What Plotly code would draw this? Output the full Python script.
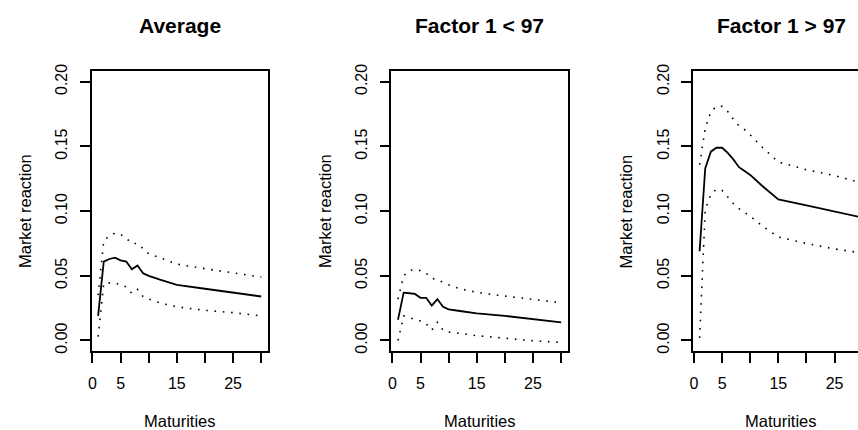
import plotly.graph_objects as go

# ---------------- data ----------------
maturities = [1, 2, 3, 4, 5, 6, 7, 8, 9, 10, 12, 15, 20, 25, 30]

avg_mean  = [0.019, 0.061, 0.063, 0.064, 0.062, 0.061, 0.055, 0.058, 0.052, 0.050, 0.047, 0.043, 0.040, 0.037, 0.034]
avg_upper = [0.035, 0.077, 0.081, 0.083, 0.082, 0.079, 0.075, 0.075, 0.071, 0.067, 0.064, 0.059, 0.0555, 0.052, 0.049]
avg_lower = [0.003, 0.044, 0.0445, 0.0445, 0.043, 0.0415, 0.0365, 0.0395, 0.034, 0.032, 0.029, 0.026, 0.0233, 0.0215, 0.019]

low_mean  = [0.016, 0.037, 0.0365, 0.036, 0.033, 0.033, 0.027, 0.032, 0.026, 0.024, 0.0228, 0.021, 0.019, 0.0165, 0.014]
low_upper = [0.032, 0.050, 0.054, 0.055, 0.054, 0.052, 0.048, 0.047, 0.045, 0.043, 0.040, 0.0372, 0.0343, 0.0318, 0.0292]
low_lower = [0.000, 0.019, 0.018, 0.016, 0.015, 0.013, 0.008, 0.014, 0.008, 0.0065, 0.0055, 0.0037, 0.0017, -0.0002, -0.0015]

high_mean  = [0.069, 0.133, 0.146, 0.149, 0.149, 0.145, 0.140, 0.134, 0.131, 0.128, 0.120, 0.109, 0.1045, 0.100, 0.095]
high_upper = [0.136, 0.164, 0.177, 0.181, 0.181, 0.177, 0.171, 0.166, 0.163, 0.159, 0.150, 0.138, 0.132, 0.1275, 0.1215]
high_lower = [0.002, 0.101, 0.113, 0.117, 0.116, 0.111, 0.106, 0.102, 0.099, 0.096, 0.089, 0.080, 0.075, 0.0708, 0.0675]

titles = ["Average", "Factor 1 < 97", "Factor 1 > 97"]
x_label = "Maturities"
y_label = "Market reaction"
x_ticks = [0, 5, 10, 15, 20, 25, 30]
x_ticktext = ["0", "5", "", "15", "", "25", ""]
y_ticks = [0.0, 0.05, 0.10, 0.15, 0.20]
y_ticktext = ["0.00", "0.05", "0.10", "0.15", "0.20"]

panels = [
    (avg_mean, avg_upper, avg_lower),
    (low_mean, low_upper, low_lower),
    (high_mean, high_upper, high_lower),
]

# ---------------- layout geometry ----------------
W, H = 858, 430
box_left = [88.0, 389.3, 692.3]
box_w = 177.0
box_top, box_bot = 66.0, 352.0
xr_full = [-0.16, 31.16]
ppu = box_w / (xr_full[1] - xr_full[0])

FONT = "Liberation Sans, Arial, Helvetica, sans-serif"

fig = go.Figure()
layout = dict(
    width=W, height=H,
    margin=dict(l=0, r=0, t=0, b=0),
    paper_bgcolor="white", plot_bgcolor="white",
    showlegend=False,
    font=dict(family=FONT, size=16, color="black"),
)

annotations = []
for i, (m, up, lo) in enumerate(panels):
    k = "" if i == 0 else str(i + 1)
    xa, ya = "x" + k, "y" + k
    left = box_left[i]
    right = min(left + box_w, W)
    xr = [xr_full[0], xr_full[0] + (right - left) / ppu]

    for series, dash, lw in ((up, "1.6px,6.7px", 1.6), (lo, "1.6px,6.7px", 1.6), (m, "solid", 1.8)):
        fig.add_trace(go.Scatter(
            x=maturities, y=series, mode="lines",
            line=dict(color="black", width=lw, dash=dash),
            xaxis=xa, yaxis=ya, hoverinfo="skip",
        ))

    layout["xaxis" + k] = dict(
        domain=[left / W, right / W], range=xr, anchor=ya,
        showgrid=False, zeroline=False,
        showline=True, mirror=True, linecolor="black", linewidth=1.6,
        ticks="outside", ticklen=10, tickwidth=1.6, tickcolor="black",
        tickvals=x_ticks, ticktext=x_ticktext,
        tickfont=dict(family=FONT, size=16, color="black"),
        ticklabelstandoff=7,
    )
    layout["yaxis" + k] = dict(
        domain=[(H - box_bot) / H, (H - box_top) / H], range=[-0.008, 0.208], anchor=xa,
        showgrid=False, zeroline=False,
        showline=True, mirror=(i < 2), linecolor="black", linewidth=1.6,
        ticks="outside", ticklen=10, tickwidth=1.6, tickcolor="black",
        tickvals=y_ticks, ticktext=y_ticktext, tickangle=-90,
        tickfont=dict(family=FONT, size=16, color="black"),
        ticklabelstandoff=6,
    )

    cx = (left + left + box_w) / 2
    annotations.append(dict(
        text="<b>" + titles[i].replace("<", "&lt;").replace(">", "&gt;") + "</b>",
        x=cx / W, y=(H - 19) / H, xref="paper", yref="paper",
        xanchor="center", yanchor="middle", showarrow=False,
        font=dict(family=FONT, size=21, color="black"),
    ))
    annotations.append(dict(
        text=x_label, x=cx / W, y=(H - 424) / H, xref="paper", yref="paper",
        xanchor="center", yanchor="middle", showarrow=False,
        font=dict(family=FONT, size=16.5, color="black"),
    ))
    annotations.append(dict(
        text=y_label, x=(left - 67) / W, y=(H - (box_top + box_bot) / 2) / H,
        xref="paper", yref="paper", textangle=-90,
        xanchor="center", yanchor="middle", showarrow=False,
        font=dict(family=FONT, size=16.5, color="black"),
    ))

layout["annotations"] = annotations
fig.update_layout(**layout)
fig.write_html("out.html")
